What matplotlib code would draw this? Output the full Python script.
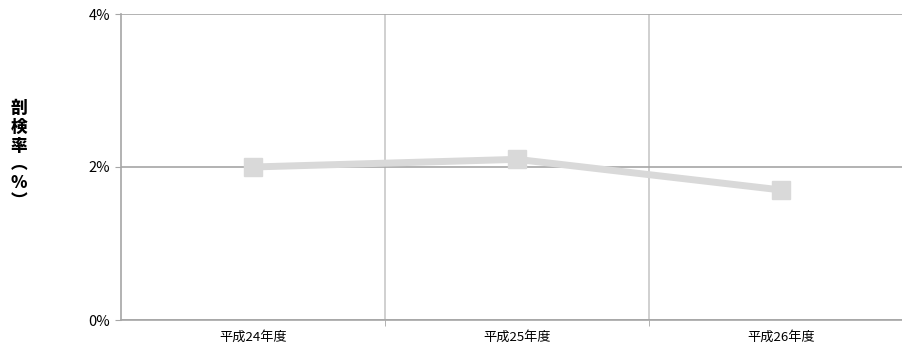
import matplotlib
matplotlib.use("Agg")
import matplotlib.pyplot as plt
from matplotlib.ticker import FixedLocator, NullFormatter

plt.rcParams['font.family'] = ['Noto Sans CJK JP', 'DejaVu Sans']

categories = ["平成24年度", "平成25年度", "平成26年度"]
rates = [2.0, 2.1, 1.7]
y_ticks = [0, 2, 4]
y_tick_labels = ["0%", "2%", "4%"]
y_label = "剖\n検\n率\n︵\n%\n︶"

fig = plt.figure(figsize=(9.02, 3.51), dpi=100)
ax = fig.add_axes([121 / 902, 1 - 320 / 351, (913 - 121) / 902, (320 - 14) / 351])

x = list(range(len(categories)))
ax.plot(x, rates, color="#d9d9d9", lw=5, marker="s", markersize=13,
        markerfacecolor="#d9d9d9", markeredgecolor="#d9d9d9", zorder=3,
        solid_joinstyle="miter")

ax.set_xlim(-0.5, len(categories) - 0.5)
ax.set_ylim(0, 4)
ax.set_yticks(y_ticks)
ax.set_yticklabels(y_tick_labels, fontsize=10.5)
ax.set_xticks(x)
ax.set_xticklabels(categories, fontsize=9.5)
ax.xaxis.set_minor_locator(FixedLocator([i + 0.5 for i in range(len(categories) - 1)]))
ax.xaxis.set_minor_formatter(NullFormatter())

ax.grid(True, axis="y", which="major", color="#a6a6a6", lw=1.2)
ax.grid(True, axis="x", which="minor", color="#c8c8c8", lw=1.2)
ax.tick_params(axis="x", which="major", length=0, pad=8)
ax.tick_params(axis="x", which="minor", length=4, color="#a6a6a6")
ax.tick_params(axis="y", length=4, color="#a6a6a6", pad=4)

for side in ["top", "right"]:
    ax.spines[side].set_visible(False)
ax.spines["left"].set_color("#a6a6a6")
ax.spines["bottom"].set_color("#a6a6a6")
ax.spines["left"].set_linewidth(1.2)
ax.spines["bottom"].set_linewidth(1.2)

fig.text(19 / 902, 1 - 155 / 351, y_label, fontsize=12, fontweight="heavy",
         ha="center", va="center", linespacing=1.05)

fig.savefig("out.png", dpi=100)
